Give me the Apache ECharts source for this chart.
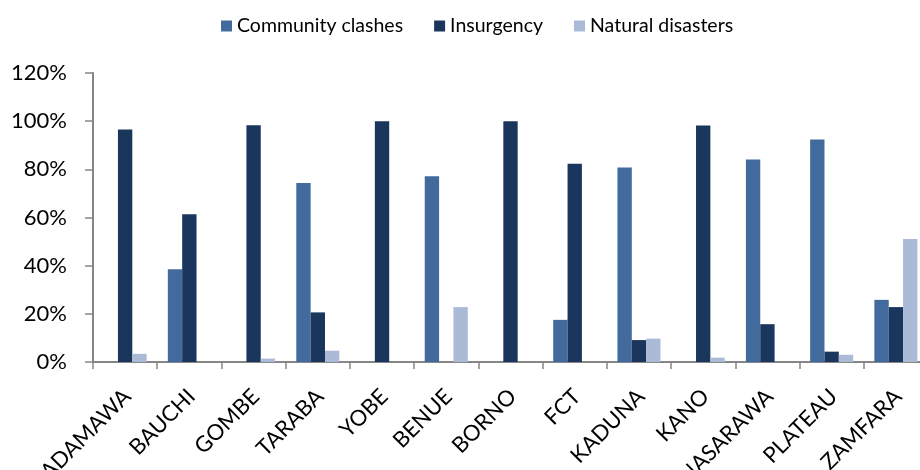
<!DOCTYPE html>
<html><head><meta charset="utf-8">
<script src="https://cdn.jsdelivr.net/npm/echarts@6/dist/echarts.min.js"></script>
<style>html,body{margin:0;padding:0;background:#fff}#c{width:920px;height:470px}</style>
</head><body><div id="c"></div>
<script>
const categories = ['ADAMAWA','BAUCHI','GOMBE','TARABA','YOBE','BENUE','BORNO','FCT','KADUNA','KANO','NASARAWA','PLATEAU','ZAMFARA'];
const communityClashes = [0, 38.5, 0, 74.3, 0, 77.1, 0, 17.5, 80.8, 0, 84.1, 92.4, 25.8];
const insurgency = [96.5, 61.3, 98.3, 20.6, 100, 0, 100, 82.3, 9.1, 98.2, 15.7, 4.3, 22.8];
const naturalDisasters = [3.4, 0, 1.4, 4.7, 0, 22.8, 0, 0, 9.7, 1.8, 0, 3.0, 51.1];
const yTicks = {min: 0, max: 120, interval: 20};

const font = 'Lato';
const chart = echarts.init(document.getElementById('c'));
chart.setOption({
  animation: false,
  textStyle: {fontFamily: font},
  legend: {
    top: 11, left: 216,
    itemWidth: 11, itemHeight: 11, itemGap: 31,
    icon: 'rect',
    textStyle: {fontFamily: font, fontSize: 19.5, color: '#000'},
    data: ['Community clashes','Insurgency','Natural disasters']
  },
  grid: {left: 93, right: -8, top: 73, bottom: 108, containLabel: false, outerBoundsMode: 'none'},
  xAxis: {
    type: 'category', data: categories,
    axisLine: {lineStyle: {color: '#868686', width: 2}},
    axisTick: {show: true, length: 7, lineStyle: {color: '#868686', width: 1.5}},
    axisLabel: {rotate: 45, fontSize: 22, color: '#000', margin: 33, fontFamily: font, interval: 0,
                padding: [0, -3, 0, 0]}
  },
  yAxis: {
    type: 'value', min: yTicks.min, max: yTicks.max, interval: yTicks.interval,
    axisLine: {show: true, lineStyle: {color: '#868686', width: 2}},
    axisTick: {show: true, length: 8, lineStyle: {color: '#868686', width: 1.5}},
    splitLine: {show: false},
    axisLabel: {formatter: '{value}%', fontSize: 22, color: '#000', margin: 26, fontFamily: font}
  },
  series: [
    {name: 'Community clashes', type: 'bar', data: communityClashes, barGap: '0%', barCategoryGap: '33%',
     itemStyle: {color: '#426a9c'}},
    {name: 'Insurgency', type: 'bar', data: insurgency,
     itemStyle: {color: '#1b365d'}},
    {name: 'Natural disasters', type: 'bar', data: naturalDisasters,
     itemStyle: {color: '#abbad6'}}
  ]
});
</script></body></html>
